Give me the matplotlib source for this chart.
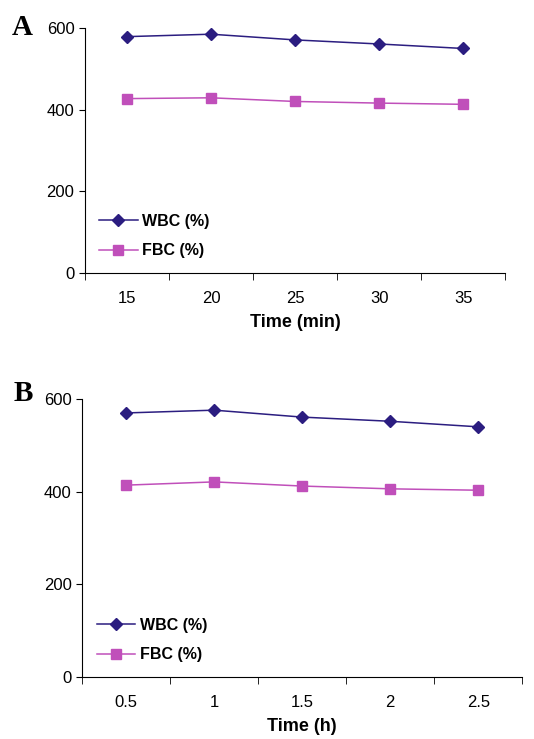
import numpy as np
import matplotlib
matplotlib.use("Agg")
import matplotlib.pyplot as plt
from matplotlib.ticker import FixedLocator

plt.rcParams['font.family'] = ['Liberation Sans', 'DejaVu Sans']

# panel A data
time_min = ["15", "20", "25", "30", "35"]
wbc_a = [579, 585, 571, 561, 550]
fbc_a = [427, 429, 420, 416, 413]

# panel B data
time_h = ["0.5", "1", "1.5", "2", "2.5"]
wbc_b = [570, 576, 561, 552, 540]
fbc_b = [414, 421, 412, 406, 403]

wbc_color = "#2B1D80"
fbc_color = "#C04FBA"

fig = plt.figure(figsize=(5.34, 7.39), dpi=100)
axA = fig.add_axes([0.159, 0.631, 0.787, 0.331])
axB = fig.add_axes([0.154, 0.0843, 0.824, 0.3757])


def draw(ax, cats, wbc, fbc, xlabel):
    x = np.arange(len(cats))
    ax.plot(x, wbc, color=wbc_color, marker="D", markersize=6, lw=1.1, label="WBC (%)")
    ax.plot(x, fbc, color=fbc_color, marker="s", markersize=6.5, lw=1.1, label="FBC (%)")
    ax.set_xlim(-0.5, len(cats) - 0.5)
    ax.set_ylim(0, 600)
    ax.set_yticks([0, 200, 400, 600])
    ax.set_xticks(x)
    ax.set_xticklabels(cats)
    ax.xaxis.set_minor_locator(FixedLocator(np.arange(len(cats) + 1) - 0.5))
    ax.tick_params(axis="x", which="major", length=0, pad=13, labelsize=12)
    ax.tick_params(axis="x", which="minor", length=5, direction="out")
    ax.tick_params(axis="y", length=4, labelsize=12)
    ax.spines["top"].set_visible(False)
    ax.spines["right"].set_visible(False)
    ax.set_xlabel(xlabel, fontsize=13, fontweight="bold", labelpad=6)
    ax.legend(loc="lower left", bbox_to_anchor=(0.0, 0.0), frameon=False,
              prop={"weight": "bold", "size": 11.5}, handlelength=2.4,
              handletextpad=0.3, labelspacing=0.9)


draw(axA, time_min, wbc_a, fbc_a, "Time (min)")
draw(axB, time_h, wbc_b, fbc_b, "Time (h)")

fig.text(0.022, 0.952, "A", family="Liberation Serif", fontweight="bold", fontsize=21)
fig.text(0.026, 0.457, "B", family="Liberation Serif", fontweight="bold", fontsize=21)

fig.savefig("out.png", dpi=100)
